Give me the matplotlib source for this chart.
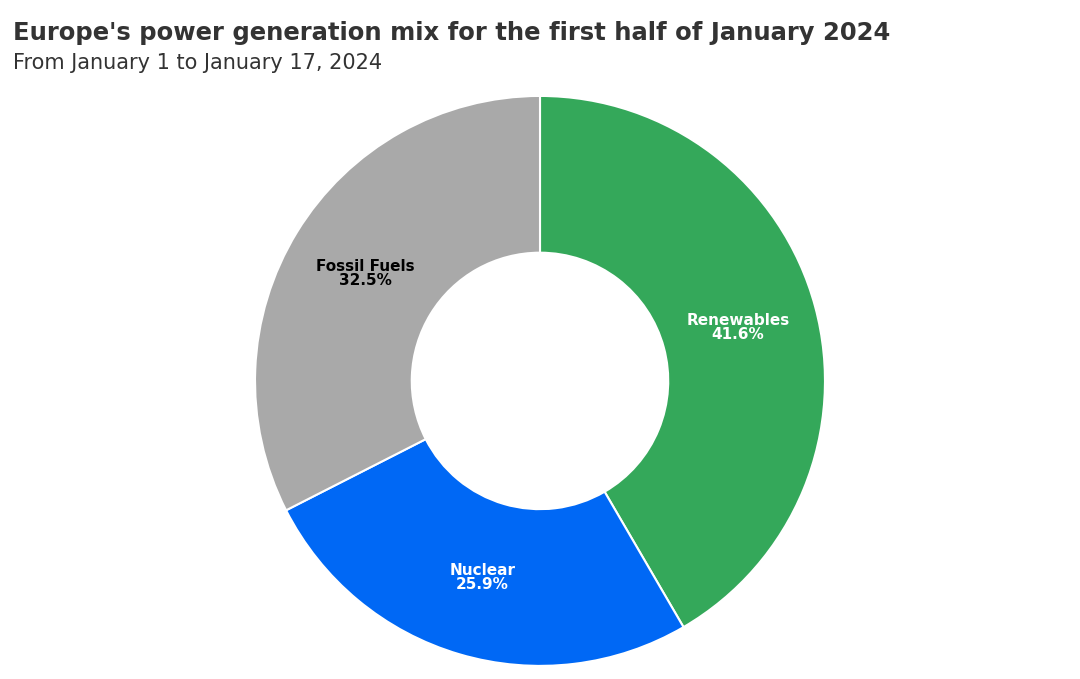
import matplotlib
matplotlib.use("Agg")
import matplotlib.pyplot as plt
import numpy as np

categories = ["Renewables", "Nuclear", "Fossil Fuels"]
values = [41.6, 25.9, 32.5]
colors = ["#34a85a", "#0068f5", "#a9a9a9"]
text_colors = ["white", "white", "black"]

fig = plt.figure(figsize=(10.8, 6.79), dpi=100)
ax = fig.add_axes([0.5 - 0.264, 0.439 - 0.4197, 0.528, 0.8394])
wedges, _ = ax.pie(values, colors=colors, startangle=90, counterclock=False,
                   radius=1.0, wedgeprops=dict(width=0.55, edgecolor="white", linewidth=1.5))
ax.set_xlim(-1, 1); ax.set_ylim(-1, 1); ax.set_aspect("equal")
for w, c, v, tc in zip(wedges, categories, values, text_colors):
    ang = np.deg2rad((w.theta1 + w.theta2) / 2)
    r = 0.72
    ax.text(r * np.cos(ang), r * np.sin(ang), f"{c}\n{v}%", ha="center", va="center",
            color=tc, fontsize=11, fontweight="bold", linespacing=0.95)

fig.text(0.012, 0.951, "Europe's power generation mix for the first half of January 2024",
         fontsize=17.5, fontweight="heavy", color="#333333", va="center")
fig.text(0.012, 0.907, "From January 1 to January 17, 2024", fontsize=15, color="#333333", va="center")
fig.savefig("out.png", dpi=100)
